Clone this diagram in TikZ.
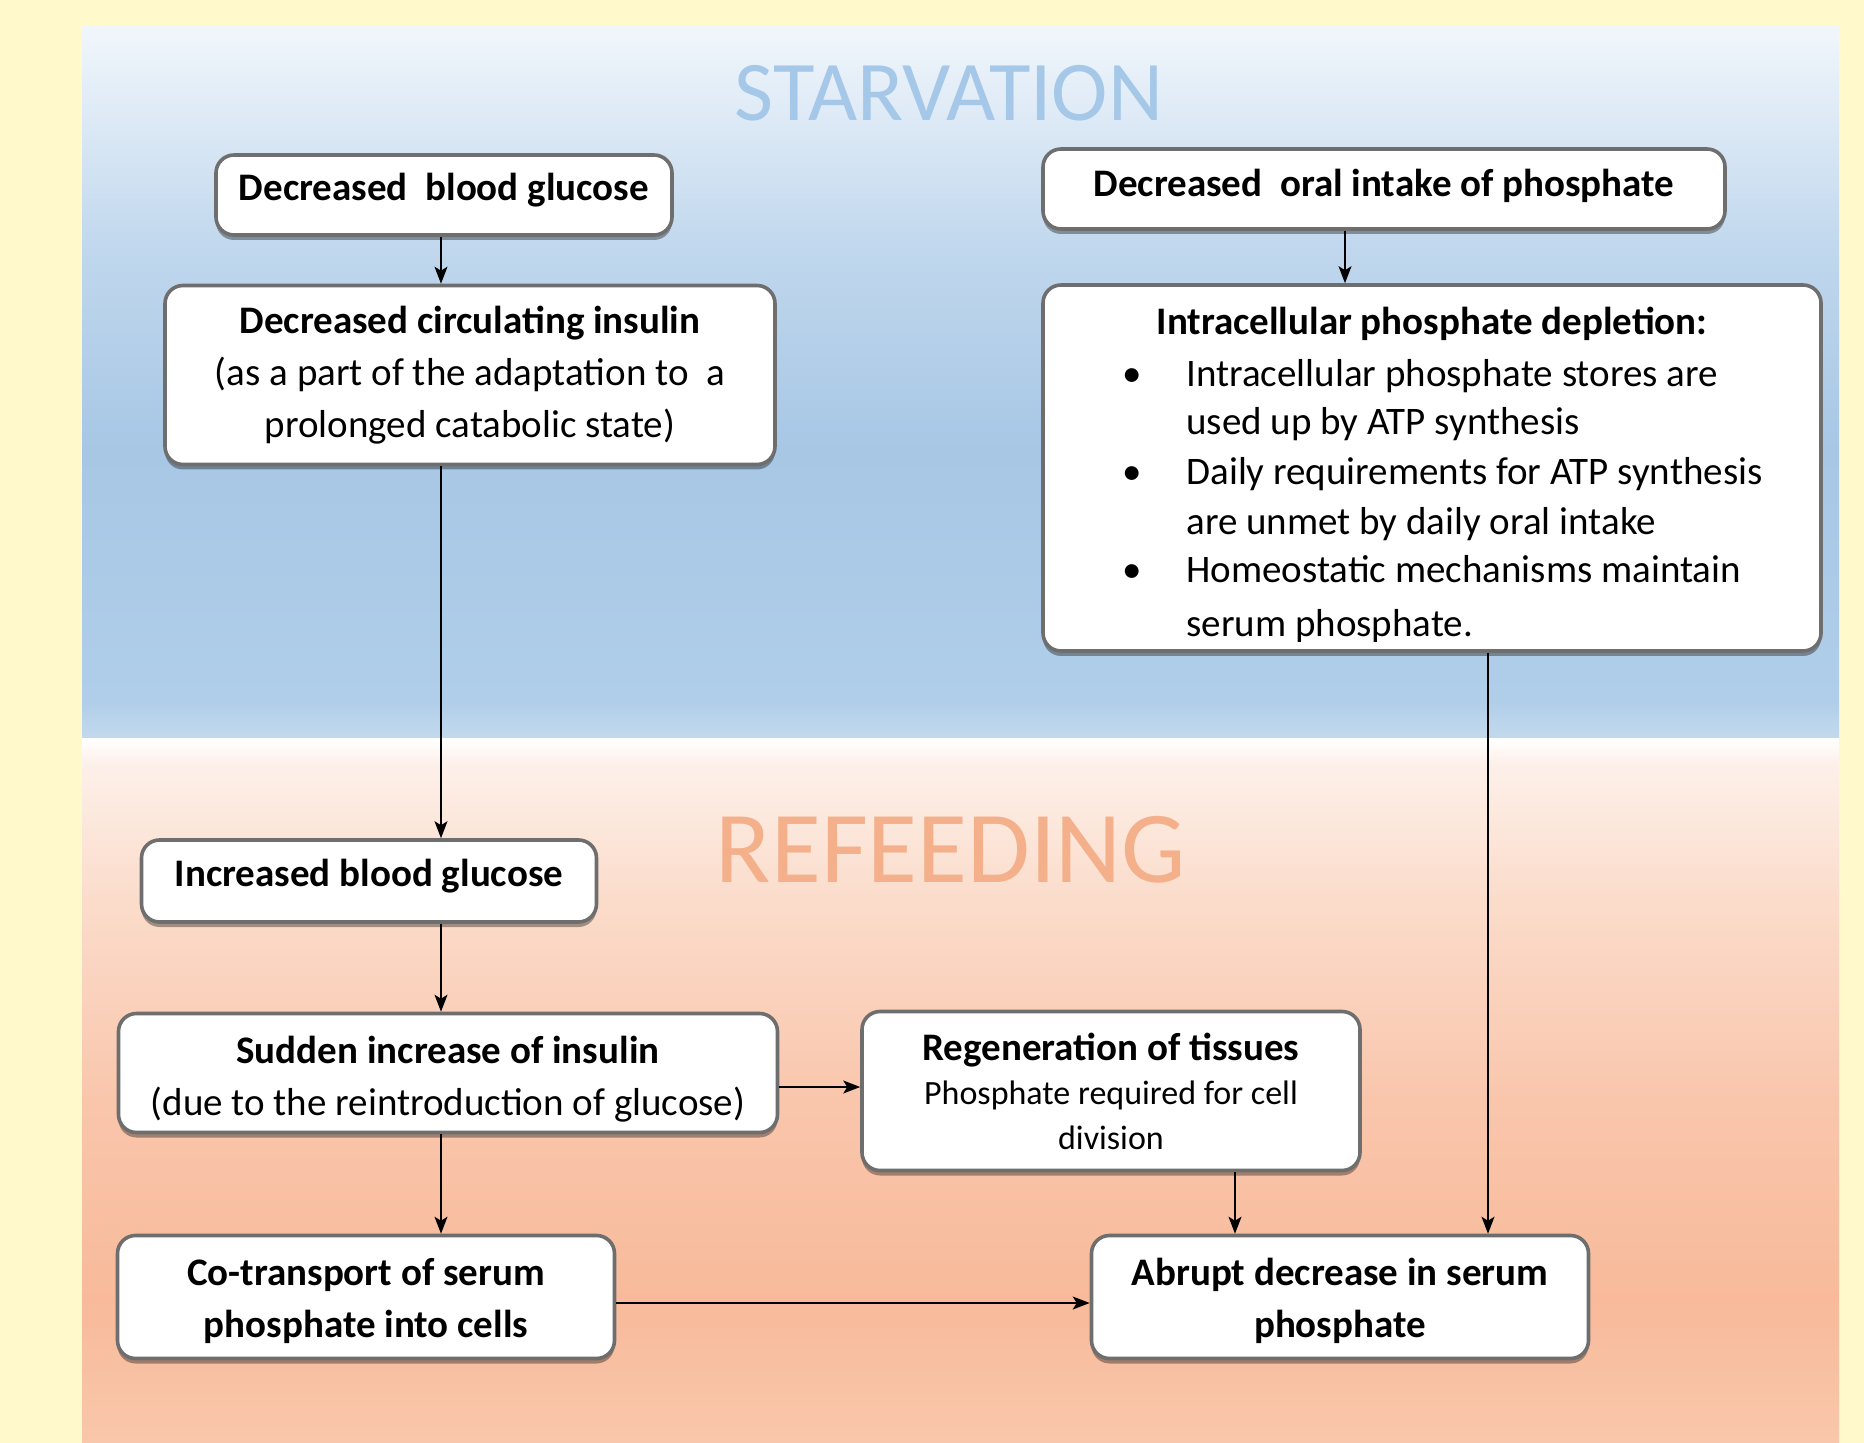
\documentclass[tikz,border=0pt]{standalone}
\usepackage{fontspec}
\setmainfont{Carlito}
\usetikzlibrary{arrows.meta,shadows}
\definecolor{bgyellow}{HTML}{FFF9CC}
\definecolor{boxgray}{HTML}{6E6E6E}
\definecolor{starvc}{HTML}{A5C8E8}
\definecolor{refeedc}{HTML}{F4B08A}
\definecolor{bA}{HTML}{C3DAEE}
\definecolor{bB}{HTML}{B0CEE9}
\definecolor{bC}{HTML}{A7C7E5}
\definecolor{bD}{HTML}{C0D7ED}
\definecolor{bE}{HTML}{E1ECF7}
\definecolor{bF}{HTML}{F1F6FB}
\definecolor{pA}{HTML}{F9C7AB}
\definecolor{pB}{HTML}{F8BA9A}
\definecolor{pC}{HTML}{F9C6AC}
\definecolor{pD}{HTML}{FBDCCB}
\definecolor{pE}{HTML}{FDF0E9}
\definecolor{pF}{HTML}{FFFFFF}
\pgfdeclareverticalshading{blueshade}{100bp}{color(0bp)=(bA); color(25bp)=(bA); color(27.7bp)=(bB); color(45.3bp)=(bC); color(59.3bp)=(bD); color(69.8bp)=(bE); color(75bp)=(bF); color(100bp)=(bF)}
\pgfdeclareverticalshading{peachshade}{100bp}{color(0bp)=(pA); color(25bp)=(pA); color(35.2bp)=(pB); color(49.4bp)=(pC); color(63.6bp)=(pD); color(73.2bp)=(pE); color(75bp)=(pF); color(100bp)=(pF)}
\newcommand{\bodyf}{\fontsize{19.5}{26}\selectfont}
\newcommand{\smallf}{\fontsize{17}{22.3}\selectfont}
\newcommand{\listf}{\fontsize{19.5}{25}\selectfont}
\newcommand{\shiftt}[2]{\raisebox{#1}[\height][\depth]{\begin{tabular}{@{}c@{}}#2\end{tabular}}}
\begin{document}
\begin{tikzpicture}[x=0.5pt,y=-0.5pt,
  box/.style={draw=boxgray, line width=1.8pt, fill=white, rounded corners=9pt,
    align=center, inner sep=0pt, font=\bodyf,
    drop shadow={shadow xshift=0pt, shadow yshift=-2.5pt, opacity=0.35, fill=black}},
  arr/.style={-{Stealth[length=8.5pt,width=6.5pt,inset=2pt]}, line width=0.8pt, black},
  listtext/.style={anchor=base west, inner sep=0pt, font=\listf},
  bul/.style={anchor=base, inner sep=0pt, font=\listf}]
\useasboundingbox (0,0) rectangle (1864,1443);
\fill[bgyellow] (0,0) rectangle (1864,1443);
\shade[shading=blueshade] (82,27) rectangle (1839,739);
\shade[shading=peachshade] (82,739) rectangle (1839,1443);

\node[text=starvc, font=\fontsize{42.5}{50}\selectfont, inner sep=0pt] (starv) at (949,93) {STARVATION};
\node[text=refeedc, font=\fontsize{51}{60}\selectfont, inner sep=0pt] (refeed) at (951,850) {REFEEDING};

\node[box, minimum width=228pt, minimum height=40pt] (b1) at (444,195) {\shiftt{2.4pt}{\textbf{Decreased\ \ blood glucose}}};
\node[box, minimum width=305pt, minimum height=89.5pt] (b2) at (470,375) {\textbf{Decreased circulating insulin}\\(as a part of the adaptation to\ \ a\\prolonged catabolic state)};
\node[box, minimum width=341pt, minimum height=40pt] (b3) at (1384,189) {\shiftt{1.2pt}{\textbf{Decreased\ \ oral intake of phosphate}}};
\node[box, minimum width=389pt, minimum height=183pt] (b4) at (1432,468) {};
\node[box, minimum width=227.5pt, minimum height=41pt] (b5) at (369,881) {\shiftt{2.4pt}{\textbf{Increased blood glucose}}};
\node[box, minimum width=329.5pt, minimum height=59.5pt] (b6) at (448,1073) {\shiftt{-3pt}{\textbf{Sudden increase of insulin}\\(due to the reintroduction of glucose)}};
\node[box, minimum width=249pt, minimum height=79.5pt, font=\smallf] (b7) at (1111,1091) {\shiftt{-2.4pt}{{\bodyf\bfseries Regeneration of tissues}\\Phosphate required for cell\\division}};
\node[box, minimum width=248.5pt, minimum height=61.5pt, font=\bodyf\bfseries] (b8) at (366,1297) {\shiftt{-1.8pt}{Co-transport of serum\\phosphate into cells}};
\node[box, minimum width=248.5pt, minimum height=61.5pt, font=\bodyf\bfseries] (b9) at (1340,1297) {\shiftt{-1.8pt}{Abrupt decrease in serum\\phosphate}};

\begin{scope}
\clip (1050,290) rectangle (1815,642);
\node[anchor=base, inner sep=0pt, font=\listf\bfseries] (t0) at (1432,335) {Intracellular phosphate depletion:};
\node[bul] (u1) at (1132,387) {•};
\node[listtext] (l1) at (1186,387) {Intracellular phosphate stores are};
\node[listtext] (l2) at (1186,435) {used up by ATP synthesis};
\node[bul] (u3) at (1132,485) {•};
\node[listtext] (l3) at (1186,485) {Daily requirements for ATP synthesis};
\node[listtext] (l4) at (1186,535) {are unmet by daily oral intake};
\node[bul] (u5) at (1132,583) {•};
\node[listtext] (l5) at (1186,583) {Homeostatic mechanisms maintain};
\node[listtext] (l6) at (1186,637) {serum phosphate.};
\end{scope}

\coordinate (cL) at (441,0);
\coordinate (cR1) at (1345,0);
\coordinate (cR2) at (1488,0);
\coordinate (cM) at (1235,0);
\coordinate (r1) at (0,1087);
\coordinate (r2) at (0,1303);

\draw[arr] (b1.south -| cL) -- (b2.north -| cL);
\draw[arr] (b2.south -| cL) -- (b5.north -| cL);
\draw[arr] (b5.south -| cL) -- (b6.north -| cL);
\draw[arr] (b6.south -| cL) -- (b8.north -| cL);
\draw[arr] (b3.south -| cR1) -- (b4.north -| cR1);
\draw[arr] (b4.south -| cR2) -- (b9.north -| cR2);
\draw[arr] (b7.south -| cM) -- (b9.north -| cM);
\draw[arr] (b6.east |- r1) -- (b7.west |- r1);
\draw[arr] (b8.east |- r2) -- (b9.west |- r2);
\end{tikzpicture}
\end{document}
